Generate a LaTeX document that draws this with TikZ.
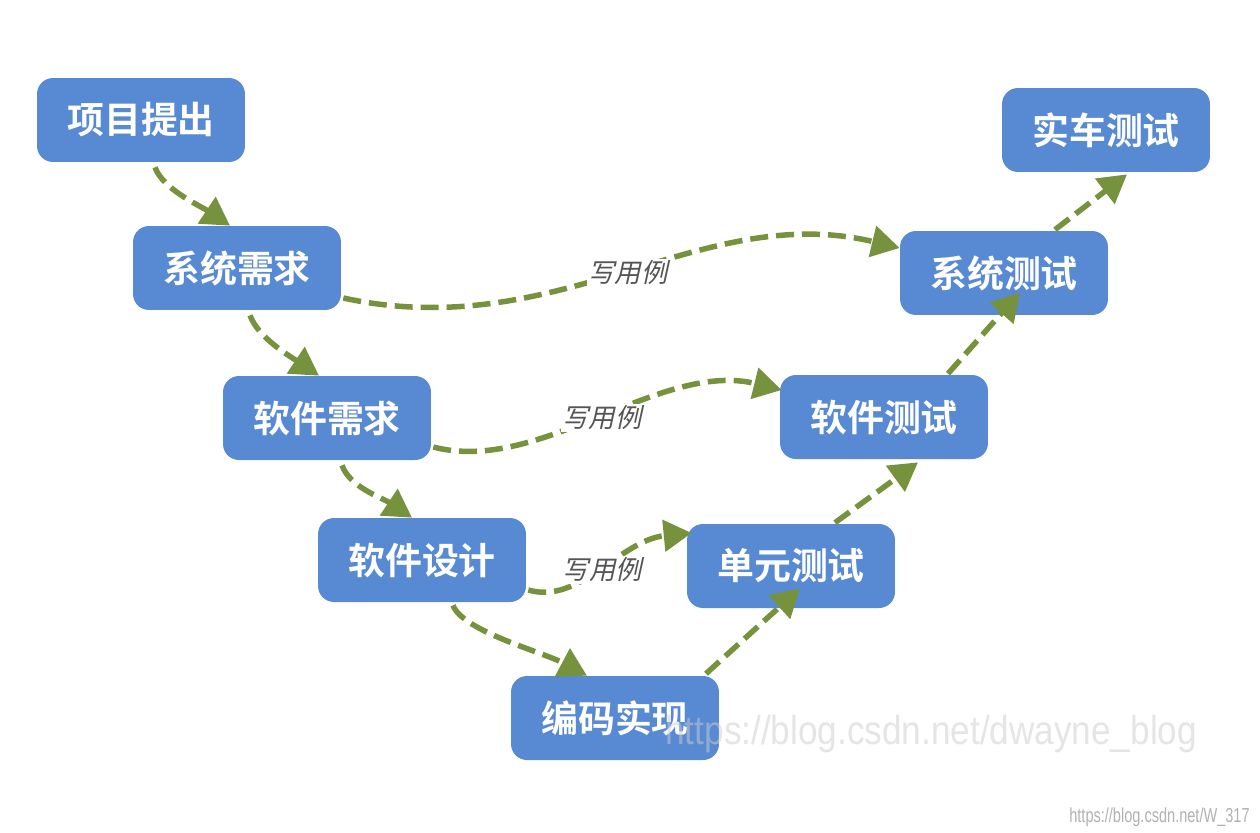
\documentclass[tikz,border=0pt]{standalone}
\usepackage{fontspec}
\usetikzlibrary{arrows.meta}
\newfontfamily\cjkb{Noto Sans CJK SC Bold}
\newfontfamily\cjkit{Noto Sans CJK SC}[FakeSlant=0.22]
\newfontfamily\wmfont{Liberation Sans}[FakeStretch=0.87]
\newfontfamily\wmsmall{Liberation Sans}[FakeStretch=0.72]
\definecolor{boxblue}{RGB}{88,138,212}
\definecolor{olivearr}{RGB}{119,146,60}
\definecolor{lblgray}{RGB}{85,85,85}
\tikzset{
  box/.style={draw=none, fill=boxblue, rounded corners=0.32cm, minimum width=4.16cm, minimum height=1.68cm,
    text=white, font=\cjkb\fontsize{21}{21}\selectfont, inner sep=0pt},
  arr/.style={draw=olivearr, line width=0.11cm, dash pattern=on 0.36cm off 0.16cm,
    -{Triangle[length=0.56cm,width=0.62cm]}},
  lbl/.style={fill=white, text=lblgray, font=\cjkit\fontsize{15}{15}\selectfont, inner sep=1pt},
}
\begin{document}
\begin{tikzpicture}[x=0.02cm, y=-0.02cm]
\useasboundingbox[fill=white] (0,0) rectangle (1260,832);
% nodes
\node[box] (p1) at (141,120) {项目提出};
\node[box] (p2) at (237,268) {系统需求};
\node[box] (p3) at (327,418) {软件需求};
\node[box] (p4) at (422,560) {软件设计};
\node[box] (p5) at (615,718) {编码实现};
\node[box] (p6) at (791,566) {单元测试};
\node[box] (p7) at (884,417) {软件测试};
\node[box] (p8) at (1004,273) {系统测试};
\node[box] (p9) at (1106,130) {实车测试};
% left branch
\draw[arr] ([shift={(14,5)}]p1.south) .. controls +(8,22) and +(-30,-20) .. ([shift={(-7,0)}]p2.north);
\draw[arr] ([shift={(13,5)}]p2.south) .. controls +(8,22) and +(-30,-20) .. ([shift={(-8,0)}]p3.north);
\draw[arr] ([shift={(15,5)}]p3.south) .. controls +(8,22) and +(-30,-20) .. ([shift={(-10,0)}]p4.north);
\draw[arr] ([shift={(31,3)}]p4.south) .. controls +(10,26) and +(-45,-24) .. ([shift={(-28,0)}]p5.north);
% right branch
\draw[arr] ([shift={(91,-2)}]p5.north) -- ([shift={(9,-20)}]p6.south);
\draw[arr] ([shift={(44,-1)}]p6.north) -- ([shift={(34,3)}]p7.south);
\draw[arr] ([shift={(64,-1)}]p7.north) -- ([shift={(16,-23)}]p8.south);
\draw[arr] ([shift={(51,-1)}]p8.north) -- ([shift={(21,2)}]p9.south);
% test-case curves
\draw[arr] ([shift={(2,30)}]p2.east) .. controls (560,345) and (700,200) .. ([shift={(0,-25)}]p8.west)
  node[lbl, pos=0.5] {写用例};
\draw[arr] ([shift={(2,29)}]p3.east) .. controls (540,475) and (660,360) .. ([shift={(2,-27)}]p7.west)
  node[lbl, pos=0.5] {写用例};
\draw[arr] ([shift={(2,30)}]p4.east) .. controls (580,605) and (620,540) .. ([shift={(5,-33)}]p6.west)
  node[lbl, pos=0.5] {写用例};
% watermarks
\node[anchor=base west, inner sep=0pt, text=gray!40, opacity=0.5, font=\wmfont\fontsize{23}{23}\selectfont] (wm1) at (665,744) {https://blog.csdn.net/dwayne\_blog};
\node[anchor=base east, inner sep=0pt, text=gray!60, font=\wmsmall\fontsize{11.5}{11.5}\selectfont] (wm2) at (1250,822) {https://blog.csdn.net/W\_317};
\end{tikzpicture}
\end{document}
